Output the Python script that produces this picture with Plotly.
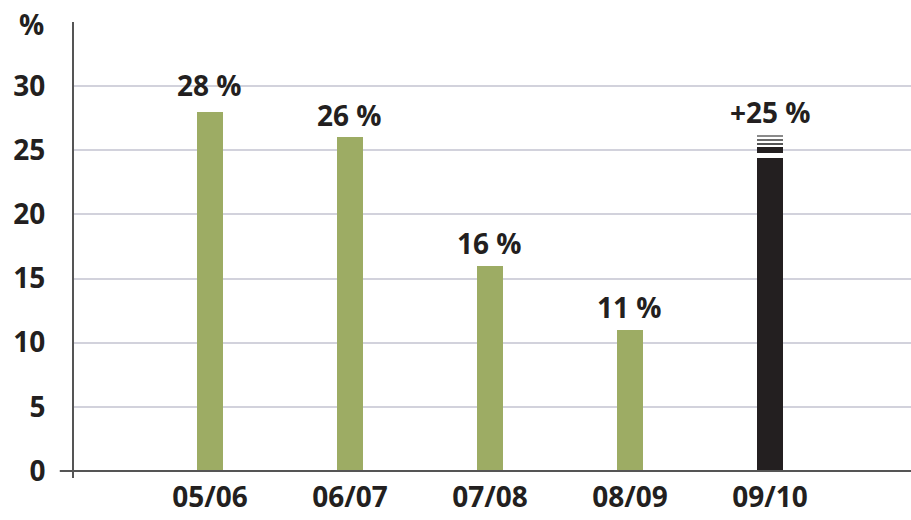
import plotly.graph_objects as go

# Growth rates by season
seasons = ["05/06", "06/07", "07/08", "08/09", "09/10"]
growth = [28, 26, 16, 11]          # completed seasons
forecast = 25                       # 09/10 outlook
labels = ["28 %", "26 %", "16 %", "11 %", "+25 %"]
y_ticks = [0, 5, 10, 15, 20, 25, 30]

GREEN = "#9dac64"
BLACK = "#231f20"
TEXT = "#231f20"
FONT = "Open Sans"
SIZE = 28
BAR_W = 0.19

fig = go.Figure()

# Completed seasons
fig.add_trace(go.Bar(
    x=seasons[:4], y=growth, width=BAR_W,
    marker=dict(color=GREEN, line=dict(width=0)),
    hoverinfo="skip",
))

# Forecast bar: solid body, a band centred on the value, and fading hairlines above
fc = seasons[4]
fig.add_trace(go.Bar(
    x=[fc], y=[forecast - 0.6], base=[0], width=BAR_W,
    marker=dict(color=BLACK, line=dict(width=0)), hoverinfo="skip",
))
fig.add_trace(go.Bar(
    x=[fc], y=[0.48], base=[forecast - 0.24], width=BAR_W,
    marker=dict(color=BLACK, line=dict(width=0)), hoverinfo="skip",
))
for off, col in [(0.42, "#555555"), (0.74, "#6a6a6a"), (1.08, "#8a8a8a")]:
    fig.add_trace(go.Bar(
        x=[fc], y=[0.12], base=[forecast + off], width=BAR_W,
        marker=dict(color=col, line=dict(width=0)), hoverinfo="skip",
    ))

# Value labels above each bar
tops = growth + [forecast + 1.2]
shifts = [6, 1, 2, 2, 2]
for s, t, lab, sh in zip(seasons, tops, labels, shifts):
    fig.add_annotation(
        x=s, y=t, text=lab, showarrow=False, yanchor="bottom", yshift=sh,
        font=dict(family=FONT, size=SIZE, color=TEXT, weight="bold"),
    )

# Unit label at top of the value axis
fig.add_annotation(
    xref="paper", yref="paper", x=-0.033, y=1.0, text="%", showarrow=False,
    xanchor="right", yanchor="middle", yshift=-2,
    font=dict(family=FONT, size=SIZE, color=TEXT, weight="bold"),
)

# Baseline, extending a little left of the value axis
fig.add_shape(
    type="line", xref="paper", yref="y", x0=-0.017, x1=1, y0=0, y1=0,
    line=dict(color="#555555", width=2), layer="above",
)

fig.update_layout(
    width=911, height=520,
    margin=dict(l=74, r=0, t=22, b=42),
    paper_bgcolor="white", plot_bgcolor="white",
    barmode="overlay", showlegend=False, bargap=0,
    font=dict(family=FONT, color=TEXT),
    xaxis=dict(
        type="category", categoryorder="array", categoryarray=seasons,
        range=[-0.971, 5.007], showgrid=False, zeroline=False, showline=False,
        ticks="", tickfont=dict(family=FONT, size=SIZE, color=TEXT, weight="bold"),
    ),
    yaxis=dict(
        range=[-0.55, 35], tickvals=y_ticks, showgrid=True,
        gridcolor="#d2d2dc", gridwidth=1.5, zeroline=False,
        showline=True, linecolor="#555555", linewidth=2,
        ticks="", ticklabelstandoff=21,
        tickfont=dict(family=FONT, size=SIZE, color=TEXT, weight="bold"),
    ),
)

fig.write_html("out.html")
